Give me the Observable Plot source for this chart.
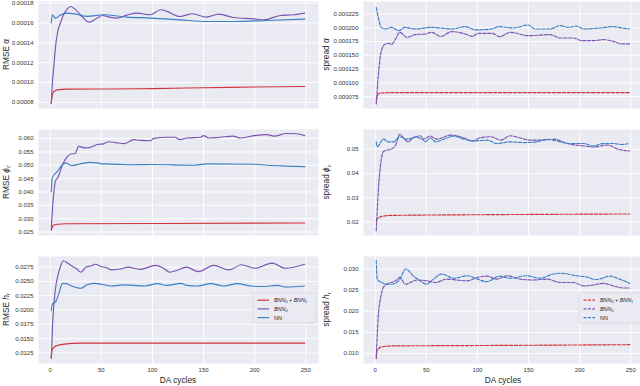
<!DOCTYPE html>
<html><head><meta charset="utf-8">
<script src="https://cdn.jsdelivr.net/npm/d3@7"></script>
<script src="https://cdn.jsdelivr.net/npm/@observablehq/plot@0.6"></script>
<style>
body{margin:0;background:#fff;}
#chart{position:relative;width:640px;height:386px;overflow:hidden;font-family:"Liberation Sans",Arial,sans-serif;background:#fff;}
#chart svg{position:absolute;overflow:visible;}
</style></head><body><div id="chart"></div>
<script>
// ---------- shared ----------
const xTicks = [0, 50, 100, 150, 200, 250];
const xDomain = [-11.45, 262.45];
const seriesNames = ["BNN0 + BNN1", "BNN0", "NN"];
const seriesColors = ["#d1343c", "#7b54b3", "#3b7fc5"];
const xLabel = "DA cycles";

// ---------- panel A : RMSE alpha ----------
const rmseAlphaRed = [[1,0.0000795],[2,0.0000870],[3.5,0.0000905],[7,0.0000926],[16,0.0000933],[60,0.0000935],[100,0.0000939],[150,0.0000947],[200,0.0000955],[249,0.0000960]];
const rmseAlphaPurple = [[1,0.0000787],[2,0.000098],[3.5,0.0001158],[5,0.000134],[7,0.0001497],[10,0.0001600],[13,0.000168],[16,0.0001733],[20,0.0001767],[25,0.0001733],[31,0.0001666],[38,0.0001609],[46,0.0001650],[51,0.0001676],[58,0.0001660],[65,0.0001650],[75,0.0001680],[85,0.0001700],[98,0.0001683],[108,0.0001734],[114,0.0001717],[127,0.0001666],[139,0.0001693],[153,0.0001660],[165,0.0001690],[179,0.0001656],[199,0.0001642],[209,0.0001632],[225,0.0001676],[238,0.0001683],[249,0.0001700]];
const rmseAlphaBlue = [[1,0.000160],[2,0.0001683],[5,0.0001650],[10,0.000168],[16,0.0001700],[25,0.000169],[36,0.0001667],[52,0.0001683],[75,0.000166],[98,0.0001650],[127,0.0001632],[153,0.0001615],[179,0.0001615],[212,0.0001625],[249,0.0001639]];
const rmseAlphaTicks = [0.00008, 0.0001, 0.00012, 0.00014, 0.00016, 0.00018];

// ---------- panel B : spread alpha ----------
const spreadAlphaRed = [[1,0.0000677],[3,0.0000799],[6,0.0000817],[16,0.0000822],[100,0.0000824],[249,0.0000824]];
const spreadAlphaPurple = [[1,0.0000618],[3,0.000112],[6,0.0001584],[10,0.0001706],[13,0.0001717],[16,0.0001700],[20,0.0001800],[24,0.0001917],[31,0.0001826],[39,0.0001875],[49,0.0001887],[55,0.0001917],[64,0.0001844],[75,0.0001929],[88,0.0001887],[95,0.0001844],[101,0.0001899],[114,0.0001899],[122,0.0001838],[132,0.0001917],[150,0.0001856],[171,0.0001875],[181,0.0001814],[194,0.0001814],[202,0.0001766],[214,0.0001766],[223,0.0001784],[233,0.0001753],[241,0.0001706],[249,0.0001706]];
const spreadAlphaBlue = [[1,0.000237],[3,0.000219],[6,0.0002007],[10,0.0001978],[16,0.0002007],[23,0.0001947],[29,0.0002007],[39,0.0001978],[55,0.0002007],[75,0.0001978],[88,0.000202],[98,0.000196],[114,0.0001978],[121,0.000202],[135,0.0001996],[150,0.000205],[156,0.0001978],[171,0.0001978],[181,0.0002038],[189,0.0002007],[197,0.000203],[204,0.0001978],[220,0.0001996],[233,0.000202],[241,0.0001996],[249,0.0001978]];
const spreadAlphaTicks = [0.000075, 0.0001, 0.000125, 0.00015, 0.000175, 0.0002, 0.000225];

// ---------- panel C : RMSE phi_c ----------
const rmsePhiRed = [[1,0.0256],[3,0.0275],[7,0.0279],[16,0.0281],[100,0.0282],[249,0.0284]];
const rmsePhiPurple = [[1,0.0262],[3,0.0376],[5,0.0439],[8,0.0458],[12,0.0502],[17,0.0533],[21,0.0543],[24,0.0543],[28,0.0571],[34,0.0565],[39,0.0567],[46,0.0578],[52,0.0580],[57,0.0588],[64,0.0585],[72,0.0581],[82,0.0596],[88,0.0593],[98,0.0592],[101,0.0600],[114,0.0605],[122,0.0605],[127,0.0596],[134,0.0602],[147,0.0605],[150,0.0611],[155,0.0602],[166,0.0605],[179,0.0609],[186,0.0602],[199,0.0611],[212,0.0615],[219,0.0609],[231,0.0619],[241,0.0618],[249,0.0611]];
const rmsePhiBlue = [[1,0.0401],[2,0.0452],[7,0.0477],[12,0.0502],[15,0.0509],[21,0.0499],[29,0.0505],[39,0.0511],[46,0.0509],[52,0.0505],[80,0.0502],[100,0.0503],[140,0.0500],[153,0.0505],[199,0.0504],[212,0.0500],[231,0.0497],[249,0.0495]];
const rmsePhiTicks = [0.025, 0.03, 0.035, 0.04, 0.045, 0.05, 0.055, 0.06];

// ---------- panel D : spread phi_c ----------
const spreadPhiRed = [[1,0.0202],[2,0.0213],[6.5,0.0223],[15,0.0227],[109,0.0230],[249,0.0233]];
const spreadPhiPurple = [[1,0.0164],[3,0.0326],[5.6,0.0449],[8,0.0490],[11.5,0.0497],[15,0.0500],[20,0.0518],[24,0.0562],[28,0.0545],[32,0.0531],[39,0.0552],[47,0.0542],[54,0.0555],[60,0.0542],[74,0.0559],[87,0.0547],[95,0.0534],[102,0.0547],[113,0.0552],[123,0.0538],[132,0.0556],[142,0.0547],[151,0.0538],[162,0.0538],[175,0.0542],[188,0.0524],[204,0.0514],[214,0.0510],[227,0.0518],[237,0.0501],[249,0.0493]];
const spreadPhiBlue = [[1,0.0531],[2,0.0511],[8,0.0542],[13,0.0531],[18,0.0531],[24,0.0552],[31,0.0542],[37,0.0547],[44,0.0556],[49,0.0531],[54,0.0547],[59,0.0531],[67,0.0542],[77,0.0555],[87,0.0542],[97,0.0535],[110,0.0538],[119,0.0524],[132,0.0531],[145,0.0528],[158,0.0531],[168,0.0542],[174,0.0538],[191,0.0524],[204,0.0524],[213,0.0514],[223,0.0524],[233,0.0524],[241,0.0520],[249,0.0524]];
const spreadPhiTicks = [0.02, 0.03, 0.04, 0.05];

// ---------- panel E : RMSE h_r ----------
const rmseHRed = [[1,0.0116],[2,0.0131],[5.5,0.0137],[12,0.0140],[30,0.0142],[100,0.0142],[249,0.0142]];
const rmseHPurple = [[1,0.0116],[2.5,0.0181],[5,0.0235],[8,0.0264],[10,0.0276],[13,0.0286],[17,0.0282],[22,0.0276],[26,0.0272],[30,0.0266],[35,0.0275],[40,0.0277],[44,0.0280],[50,0.0276],[55,0.0274],[60,0.0270],[70,0.0272],[76,0.0275],[88,0.0271],[103,0.0278],[110,0.0274],[117,0.0266],[125,0.0270],[133,0.0275],[145,0.0267],[160,0.0278],[175,0.0270],[187,0.0279],[200,0.0273],[217,0.0282],[230,0.0273],[249,0.0280]];
const rmseHBlue = [[1,0.0199],[2,0.0210],[5.5,0.0215],[8.5,0.0229],[12,0.02465],[16,0.0246],[21,0.0242],[30,0.0238],[36,0.0244],[44,0.02465],[50,0.0245],[60,0.0242],[72,0.0244],[82,0.0243],[92,0.0242],[105,0.0246],[114,0.0243],[128,0.02465],[134,0.0243],[144,0.0242],[157,0.0246],[170,0.0242],[183,0.0246],[196,0.0242],[208,0.0241],[222,0.0243],[231,0.0240],[249,0.0242]];
const rmseHTicks = [0.0125, 0.015, 0.0175, 0.02, 0.0225, 0.025, 0.0275];

// ---------- panel F : spread h_r ----------
const spreadHRed = [[1,0.0088],[2,0.0108],[6.5,0.0116],[15,0.0118],[100,0.0119],[249,0.0121]];
const spreadHPurple = [[1,0.0092],[3,0.0188],[5.6,0.0236],[9,0.0260],[13,0.0266],[20,0.0272],[24,0.0280],[29.5,0.0264],[41,0.0274],[50,0.0272],[59,0.0268],[70,0.0276],[80,0.0274],[90,0.0272],[100,0.0280],[109,0.0283],[119,0.0276],[129,0.0284],[142,0.0276],[155,0.0274],[168,0.0276],[181,0.0268],[194,0.0268],[204,0.0260],[213,0.0262],[223,0.0266],[233,0.0260],[243,0.0255],[249,0.0255]];
const spreadHBlue = [[1,0.0320],[2,0.0276],[6.5,0.0268],[11,0.0264],[16,0.0264],[23,0.0272],[30,0.0300],[37,0.0284],[44,0.0272],[50,0.0264],[57,0.0276],[65,0.0288],[77,0.0278],[90,0.0284],[100,0.0276],[109,0.0270],[122,0.0283],[132,0.0278],[148,0.0284],[161,0.0278],[174,0.0288],[181,0.0290],[197,0.0284],[207,0.0281],[216,0.0275],[230,0.0283],[239,0.0276],[249,0.0266]];
const spreadHTicks = [0.01, 0.015, 0.02, 0.025, 0.03];

// label pieces: [plain prefix, italic symbol, italic subscript]
const yLabels = {
  A: ["RMSE ", "α", ""], B: ["spread ", "α", ""],
  C: ["RMSE ", "ϕ", "c"], D: ["spread ", "ϕ", "c"],
  E: ["RMSE ", "h", "r"], F: ["spread ", "h", "r"]
};

const FONT = '"Liberation Sans", Arial, sans-serif';
const chart = document.getElementById("chart");

function addLabel(svg, parts, x, y) {
  const t = d3.select(svg).append("text")
    .attr("transform", `translate(${x},${y}) rotate(-90)`)
    .attr("text-anchor", "middle").attr("font-size", 8.3)
    .attr("font-family", FONT).attr("fill", "#262626");
  t.append("tspan").text(parts[0]);
  t.append("tspan").attr("font-style", "italic").text(parts[1]);
  if (parts[2]) t.append("tspan").attr("font-style", "italic").attr("font-size", 5.8).attr("dy", 1.8).text(parts[2]);
}

function addLegend(svg, x, y, w, h, dashed) {
  const g = d3.select(svg).append("g").attr("transform", `translate(${x},${y})`);
  g.append("rect").attr("width", w).attr("height", h).attr("rx", 1.5)
    .attr("fill", "#EAEAF2").attr("fill-opacity", 0.85).attr("stroke", "#d2d2da").attr("stroke-width", 0.6);
  seriesNames.forEach((name, i) => {
    const yy = 7.2 + i * 8.7;
    g.append("line").attr("x1", 4.5).attr("x2", 16).attr("y1", yy).attr("y2", yy)
      .attr("stroke", seriesColors[i]).attr("stroke-width", 1.2)
      .attr("stroke-dasharray", dashed ? "3,1.4" : null);
    const t = g.append("text").attr("x", 21).attr("y", yy + 1.9).attr("text-anchor", "start")
      .attr("font-size", 5.4).attr("font-family", FONT).attr("fill", "#262626");
    if (name === "NN") { t.text("NN"); return; }
    const pieces = name.split(" + ");
    pieces.forEach((p, k) => {
      if (k > 0) t.append("tspan").attr("dy", -1.3).text(" + ");
      t.append("tspan").attr("font-style", "italic").text(p.slice(0, 3));
      t.append("tspan").attr("font-size", 3.8).attr("dy", 1.3).text(p.slice(3));
    });
  });
}

function panel(o) {
  const W = 280;
  const mR = 2;
  const marks = [
    Plot.frame({fill: "#EAEAF2", stroke: null}),
    Plot.gridX(xTicks, {stroke: "white", strokeOpacity: 1, strokeWidth: 0.9}),
    Plot.gridY(o.yTicks, {stroke: "white", strokeOpacity: 1, strokeWidth: 0.9}),
    Plot.axisY(o.yTicks, {tickSize: 0, tickPadding: 5, tickFormat: d3.format(o.fmt), label: null, fontSize: 6, fill: "#333"})
  ];
  if (o.bottom) marks.push(Plot.axisX(xTicks, {tickSize: 0, tickPadding: 4, tickFormat: d3.format("d"), label: null, fontSize: 6, fill: "#333"}));
  o.series.forEach((s, i) => marks.push(Plot.line(s, {
    x: d => d[0], y: d => d[1], stroke: seriesColors[i], strokeWidth: 1.15,
    curve: "monotone-x", strokeDasharray: o.dashed ? "3.4,1.5" : null
  })));
  const svg = Plot.plot({
    width: o.mL + W + mR, height: o.mT + o.h + o.mB,
    marginLeft: o.mL, marginRight: mR, marginTop: o.mT, marginBottom: o.mB,
    x: {domain: xDomain, axis: o.bottom ? undefined : null},
    y: {domain: o.yDomain},
    style: {fontFamily: FONT, background: "transparent", color: "#333", overflow: "visible"},
    marks
  });
  svg.style.left = o.left + "px";
  svg.style.top = o.top + "px";
  addLabel(svg, o.label, o.labelX, o.mT + o.h / 2);
  if (o.bottom) {
    d3.select(svg).append("text").attr("x", o.mL + W / 2).attr("y", o.mT + o.h + 19.5)
      .attr("text-anchor", "middle").attr("font-size", 8.3).attr("font-family", FONT)
      .attr("fill", "#262626").text(xLabel);
  }
  if (o.legend) addLegend(svg, o.legend[0], o.legend[1], o.legend[2], o.legend[3], o.dashed);
  chart.appendChild(svg);
}

const L = {left: 0, mL: 38, labelX: 8.5};
const R = {left: 320, mL: 43, labelX: 9};

panel({...L, top: 0, mT: 1, h: 107, mB: 2, yDomain: [0.0000738, 0.0001817], yTicks: rmseAlphaTicks, fmt: ".5f", series: [rmseAlphaRed, rmseAlphaPurple, rmseAlphaBlue], label: yLabels.A});
panel({...R, top: 0, mT: 1, h: 107, mB: 2, yDomain: [0.0000535, 0.0002476], yTicks: spreadAlphaTicks, fmt: ".6f", series: [spreadAlphaRed, spreadAlphaPurple, spreadAlphaBlue], label: yLabels.B, dashed: true});
panel({...L, top: 128, mT: 1, h: 106, mB: 2, yDomain: [0.0237, 0.0634], yTicks: rmsePhiTicks, fmt: ".3f", series: [rmsePhiRed, rmsePhiPurple, rmsePhiBlue], label: yLabels.C});
panel({...R, top: 128, mT: 1, h: 106, mB: 2, yDomain: [0.0144, 0.0582], yTicks: spreadPhiTicks, fmt: ".2f", series: [spreadPhiRed, spreadPhiPurple, spreadPhiBlue], label: yLabels.D, dashed: true});
panel({...L, top: 255, mT: 1, h: 107, mB: 24, yDomain: [0.01065, 0.02935], yTicks: rmseHTicks, fmt: ".4f", series: [rmseHRed, rmseHPurple, rmseHBlue], label: yLabels.E, bottom: true, legend: [253, 38, 63, 30]});
panel({...R, top: 255, mT: 1, h: 107, mB: 24, yDomain: [0.00765, 0.03295], yTicks: spreadHTicks, fmt: ".3f", series: [spreadHRed, spreadHPurple, spreadHBlue], label: yLabels.F, bottom: true, dashed: true, legend: [259, 38, 66, 30]});
</script>
</body></html>
